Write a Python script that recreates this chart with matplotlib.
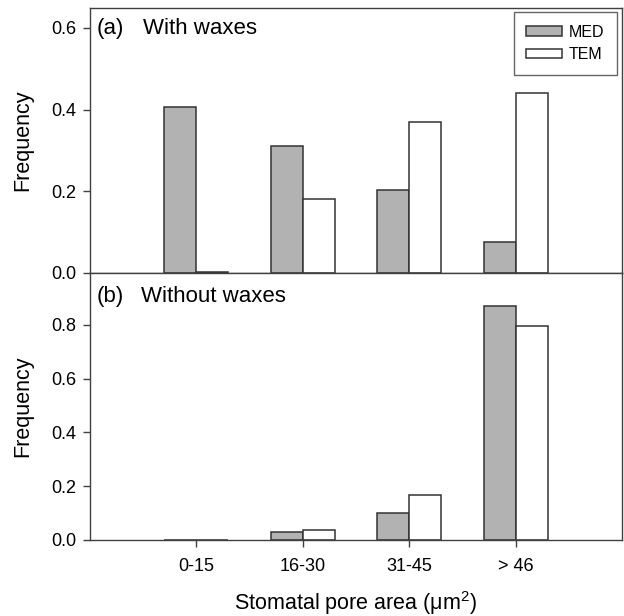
import matplotlib
matplotlib.use("Agg")
import matplotlib.pyplot as plt
import numpy as np

plt.rcParams['font.family'] = ['Liberation Sans', 'DejaVu Sans']
plt.rcParams['mathtext.fontset'] = 'custom'
plt.rcParams['mathtext.rm'] = 'Liberation Sans'
plt.rcParams['mathtext.it'] = 'Liberation Sans:italic'

categories = ['0-15', '16-30', '31-45', '> 46']
med_with = [0.407, 0.312, 0.202, 0.076]
tem_with = [0.002, 0.182, 0.370, 0.441]
med_without = [0.0, 0.029, 0.099, 0.872]
tem_without = [0.0, 0.036, 0.166, 0.797]
series_names = ['MED', 'TEM']
panel_letters = ['(a)', '(b)']
panel_titles = ['With waxes', 'Without waxes']

edge = '#333333'
gray = '#b2b2b2'
spine_c = '#404040'

fig = plt.figure(figsize=(6.24, 6.16), dpi=100)
W, H = 624, 616
left, right = 90 / W, 622 / W
y_top, y_mid, y_bot = 1 - 7.5 / H, 1 - 273 / H, 1 - 540 / H
ax1 = fig.add_axes([left, y_mid, right - left, y_top - y_mid])
ax2 = fig.add_axes([left, y_bot, right - left, y_mid - y_bot])

x = np.arange(1, len(categories) + 1)
w = 0.3
panels = [
    (ax1, med_with, tem_with, 0.65, [0.0, 0.2, 0.4, 0.6], 34),
    (ax2, med_without, tem_without, 0.993, [0.0, 0.2, 0.4, 0.6, 0.8], 302),
]
for i, (ax, med, tem, ylim, ticks, base_px) in enumerate(panels):
    ax.bar(x - w / 2, med, w, color=gray, edgecolor=edge, linewidth=1.1, label=series_names[0])
    ax.bar(x + w / 2, tem, w, color='white', edgecolor=edge, linewidth=1.1, label=series_names[1])
    ax.set_xlim(0, 5)
    ax.set_ylim(0, ylim)
    ax.set_yticks(ticks)
    ax.set_yticklabels([f'{t:.1f}' for t in ticks])
    ax.tick_params(axis='y', direction='out', length=5, width=1, color=spine_c, labelsize=13, pad=5)
    for s in ax.spines.values():
        s.set_color(spine_c)
        s.set_linewidth(1.0)
    ax.set_ylabel('Frequency', fontsize=15.5)
    ax.yaxis.set_label_coords((33 - 90) / 532, 0.5)
    fig.text(97 / W, 1 - base_px / H, panel_letters[i], fontsize=16, va='baseline', ha='left')
    fig.text((143 if i == 0 else 141) / W, 1 - base_px / H, panel_titles[i], fontsize=16,
             va='baseline', ha='left')

ax1.set_xticks([])
ax2.set_xticks(x)
ax2.set_xticklabels(categories)
ax2.tick_params(axis='x', direction='out', length=5, width=1, color=spine_c, labelsize=13, pad=8)
fig.text(356 / W, 1 - 610 / H, 'Stomatal pore area (μm$^2$)', fontsize=15.5,
         ha='center', va='baseline')

leg = ax1.legend(loc='upper right', fontsize=11.5, frameon=True, fancybox=False,
                 edgecolor=spine_c, handlelength=2.25, handleheight=0.55,
                 borderpad=0.8, labelspacing=0.45, handletextpad=0.4,
                 borderaxespad=0, bbox_to_anchor=((617 - 90) / 532, (273 - 12) / 265.5))
leg.get_frame().set_linewidth(1.0)
for p in leg.get_patches():
    p.set_linewidth(1.1)

fig.savefig('out.png', dpi=100)
